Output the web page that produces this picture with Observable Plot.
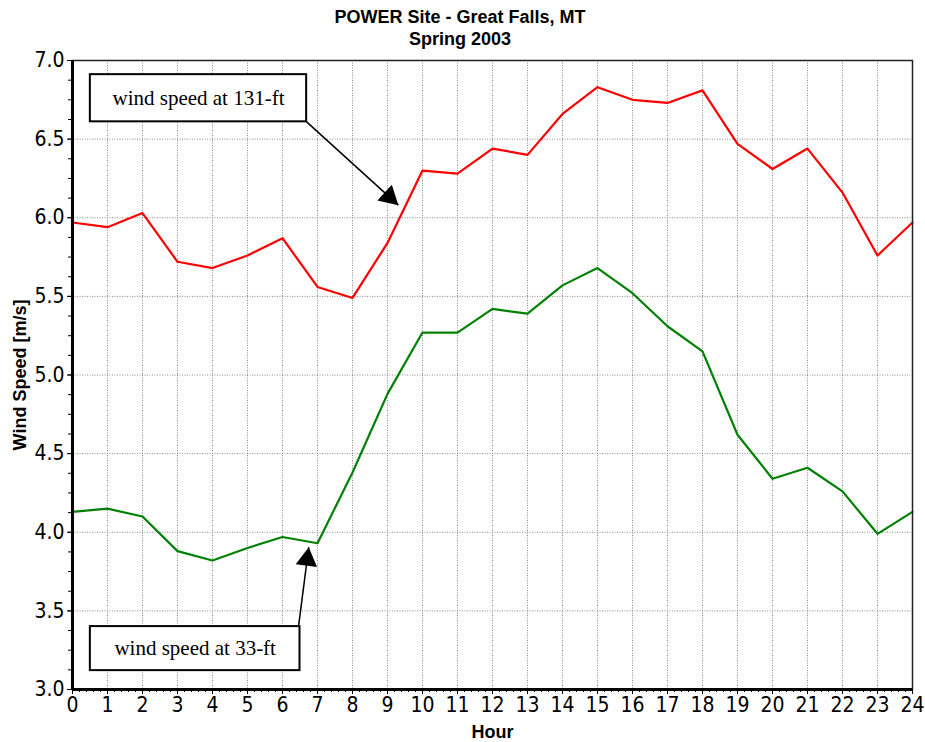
<!DOCTYPE html>
<html><head><meta charset="utf-8">
<script src="https://cdn.jsdelivr.net/npm/d3@7"></script>
<script src="https://cdn.jsdelivr.net/npm/@observablehq/plot@0.6"></script>
<style>
body{margin:0;background:#fff;}
#wrap{position:relative;width:925px;height:742px;}
#title{position:absolute;left:0;top:6px;width:920px;font-family:"Liberation Sans",Arial,sans-serif;font-weight:bold;font-size:18px;text-align:center;line-height:22px;z-index:2;}
#chart{position:absolute;left:0;top:0;}
</style></head><body>
<div id="wrap">
<div id="chart"></div>
<div id="title">POWER Site - Great Falls, MT<br>Spring 2003</div>
</div>
<script>
const hours = [0,1,2,3,4,5,6,7,8,9,10,11,12,13,14,15,16,17,18,19,20,21,22,23,24];
const speed131 = [5.97,5.94,6.03,5.72,5.68,5.76,5.87,5.56,5.49,5.84,6.30,6.28,6.44,6.40,6.66,6.83,6.75,6.73,6.81,6.47,6.31,6.44,6.16,5.76,5.97];
const speed33  = [4.13,4.15,4.10,3.88,3.82,3.90,3.97,3.93,4.38,4.88,5.27,5.27,5.42,5.39,5.57,5.68,5.52,5.31,5.15,4.62,4.34,4.41,4.26,3.99,4.13];
const xTickValues = [0,1,2,3,4,5,6,7,8,9,10,11,12,13,14,15,16,17,18,19,20,21,22,23,24];
const yTickValues = [3.0,3.5,4.0,4.5,5.0,5.5,6.0,6.5,7.0];
const noteLabels = ["wind speed at 131-ft","wind speed at 33-ft"];
const noteX1 = [0.51, 0.51];
const noteX2 = [6.69, 6.50];
const noteY1 = [6.61, 3.12];
const noteY2 = [6.91, 3.40];
const arrowFromX = [6.69, 6.46];
const arrowFromY = [6.61, 3.405];
const arrowToX = [9.31, 6.75];
const arrowToY = [6.08, 3.905];

const W = 925, H = 742, mL = 72, mR = 13, mT = 60, mB = 53;
const pxX = (W - mL - mR) / 24, pxY = (H - mT - mB) / 4;

const rows = hours.map((h, i) => ({hour: h, s131: speed131[i], s33: speed33[i]}));
const notes = noteLabels.map((t, i) => ({t, x1: noteX1[i], x2: noteX2[i], y1: noteY1[i], y2: noteY2[i],
  fx: arrowFromX[i], fy: arrowFromY[i], tx: arrowToX[i], ty: arrowToY[i]}));

const tickFont = "'Liberation Sans Narrow','Arial Narrow','DejaVu Sans Condensed','Liberation Sans',sans-serif";
const serif = "'Liberation Serif','Times New Roman',serif";

const headMarks = notes.map(n => {
  const sx = (n.tx - n.fx) * pxX, sy = -(n.ty - n.fy) * pxY;
  const len = Math.hypot(sx, sy), ux = sx / len, uy = sy / len;
  const angle = Math.atan2(ux, -uy) * 180 / Math.PI;
  const off = 12.4;
  return Plot.dot([n], {x: "tx", y: "ty", symbol: "triangle", r: 8, fill: "black", stroke: "none",
    rotate: angle, dx: -ux * off, dy: -uy * off});
});

const chart = Plot.plot({
  width: W, height: H,
  marginLeft: mL, marginRight: mR, marginTop: mT, marginBottom: mB,
  style: {background: "white", color: "black", fontFamily: tickFont},
  x: {domain: [0, 24]},
  y: {domain: [3, 7]},
  marks: [
    Plot.gridX(xTickValues.slice(1, -1), {stroke: "#888", strokeOpacity: 1, strokeDasharray: "1,1.5"}),
    Plot.gridY(yTickValues.slice(1, -1), {stroke: "#888", strokeOpacity: 1, strokeDasharray: "1,1.5"}),
    Plot.line(rows, {x: "hour", y: "s131", stroke: "#ff0000", strokeWidth: 2.2}),
    Plot.line(rows, {x: "hour", y: "s33", stroke: "#008000", strokeWidth: 2.2}),
    Plot.frame({stroke: "#222", strokeWidth: 1.5}),
    Plot.ruleX([0], {stroke: "black", strokeWidth: 3}),
    Plot.ruleY([3], {stroke: "black", strokeWidth: 3}),
    Plot.axisX(xTickValues, {tickSize: 5, tickPadding: 3, fontSize: 21, label: null, tickFormat: d => String(d)}),
    Plot.axisX(d3.range(0, 24.001, 0.2), {tickSize: 3, text: null, label: null}),
    Plot.axisY(yTickValues, {tickSize: 5, tickPadding: 3, fontSize: 21, label: null, tickFormat: d => d.toFixed(1)}),
    Plot.axisY(d3.range(3, 7.001, 0.125), {tickSize: 4, text: null, label: null}),
    Plot.text(["Wind Speed [m/s]"], {frameAnchor: "left", dx: -52, rotate: -90, fontSize: 18, fontWeight: "bold",
      fontFamily: "'Liberation Sans',Arial,sans-serif", textAnchor: "middle", lineAnchor: "middle"}),
    Plot.text(["Hour"], {frameAnchor: "bottom", dy: 43, fontSize: 18, fontWeight: "bold",
      fontFamily: "'Liberation Sans',Arial,sans-serif", lineAnchor: "middle"}),
    Plot.link(notes, {x1: "fx", y1: "fy", x2: "tx", y2: "ty", stroke: "black", strokeWidth: 1.5}),
    ...headMarks,
    Plot.rect(notes, {x1: "x1", x2: "x2", y1: "y1", y2: "y2", fill: "white", stroke: "black", strokeWidth: 2}),
    Plot.text(notes, {x: d => (d.x1 + d.x2) / 2, y: d => (d.y1 + d.y2) / 2, text: "t", fontSize: 21,
      fontFamily: serif, lineAnchor: "middle", fill: "black"})
  ]
});
document.getElementById("chart").appendChild(chart);
</script>
</body></html>
